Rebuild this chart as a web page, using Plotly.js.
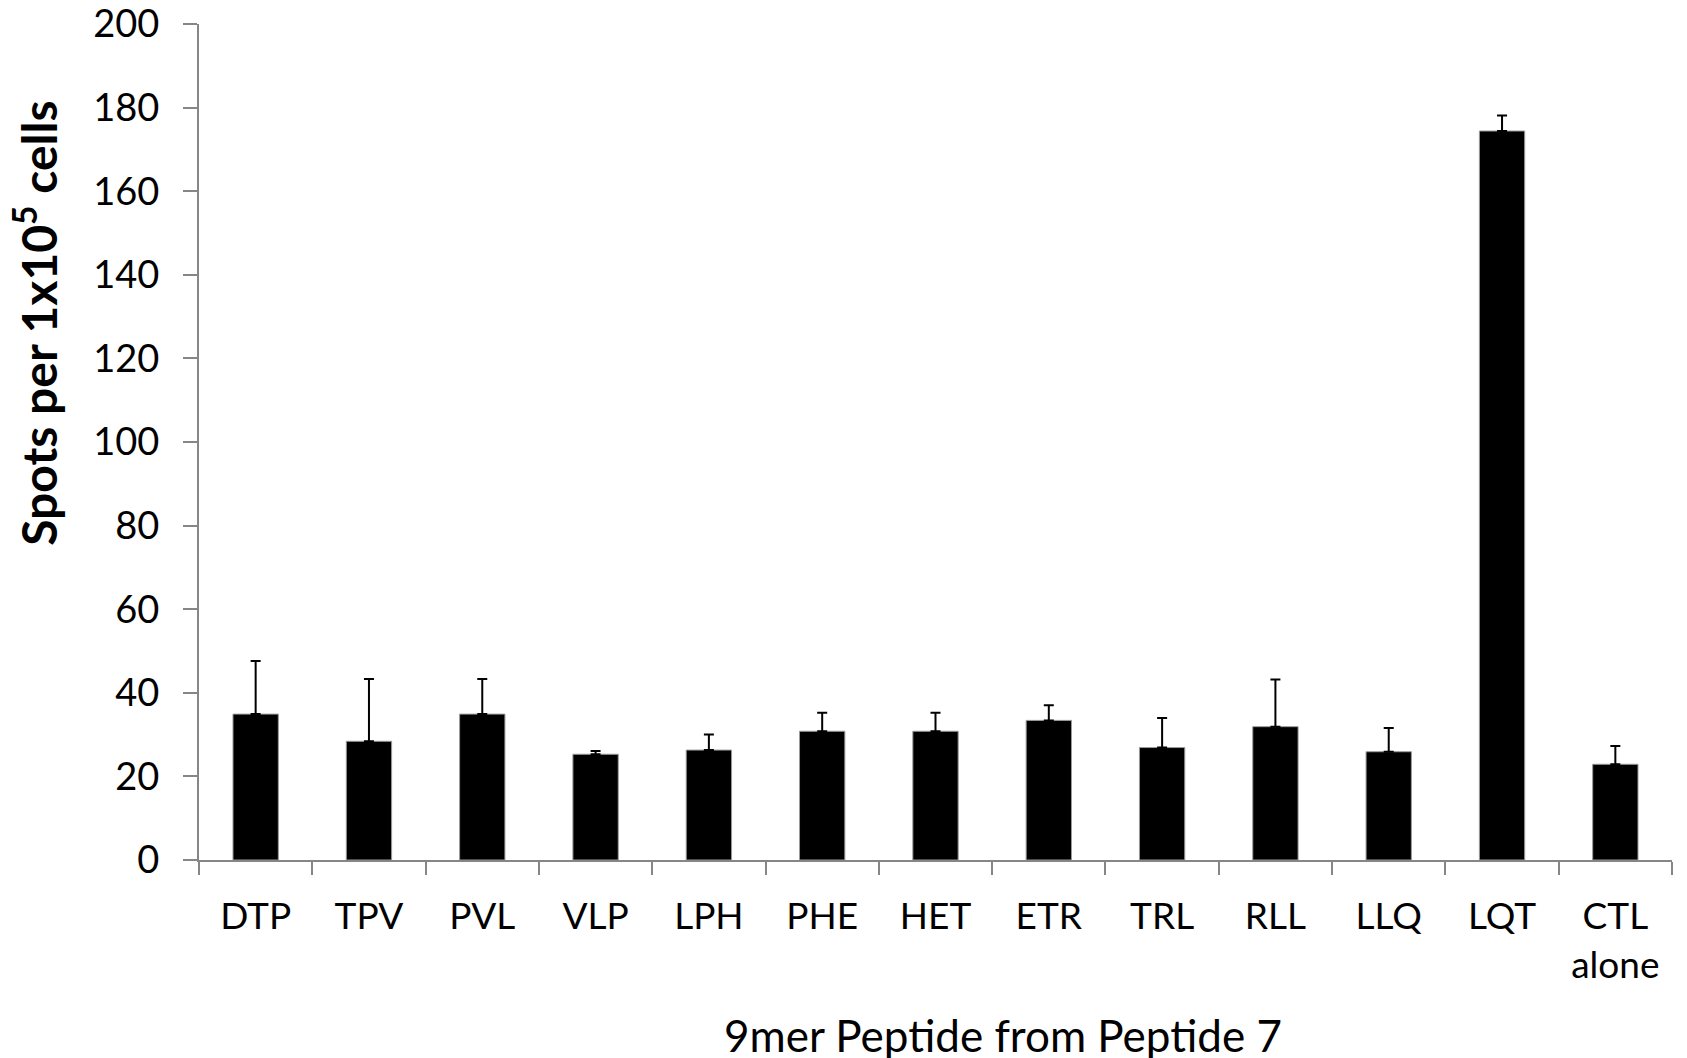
<!DOCTYPE html>
<html>
<head>
<meta charset="utf-8">
<script src="https://cdn.plot.ly/plotly-3.0.1.min.js"></script>
<style>html,body{margin:0;padding:0;background:#fff;}#chart{width:1687px;height:1058px;}</style>
</head>
<body>
<div id="chart"></div>
<script>
const categories = ["DTP","TPV","PVL","VLP","LPH","PHE","HET","ETR","TRL","RLL","LLQ","LQT","CTL<br>alone"];
const spots = [34.9, 28.4, 34.9, 25.3, 26.3, 30.8, 30.8, 33.4, 26.9, 31.9, 25.9, 174.4, 22.9];
const errorPlus = [12.7, 14.9, 8.4, 0.8, 3.7, 4.4, 4.4, 3.6, 7.1, 11.3, 5.7, 3.7, 4.4];
const yTicks = [0, 20, 40, 60, 80, 100, 120, 140, 160, 180, 200];
const xTitle = "9mer Peptide from Peptide 7";
const yTitle = "Spots per 1x10<sup>5</sup> cells";

const FONT = "Lato, 'Open Sans', sans-serif";
const axisGray = "#868686";

const trace = {
  type: "bar",
  x: categories,
  y: spots,
  marker: {color: "#000000", line: {color: "#9a9a9a", width: 1}},
  error_y: {type: "data", array: errorPlus, arrayminus: spots.map(() => 0), symmetric: false,
            color: "#000000", thickness: 2, width: 5},
  hoverinfo: "x+y"
};

const layout = {
  width: 1687, height: 1058,
  margin: {l: 199, r: 15, t: 24, b: 198},
  paper_bgcolor: "#ffffff", plot_bgcolor: "#ffffff",
  bargap: 0.6,
  showlegend: false,
  font: {family: FONT, color: "#000000", size: 37},
  xaxis: {
    type: "category",
    showline: true, linecolor: axisGray, linewidth: 2,
    ticks: "outside", tickson: "boundaries", ticklen: 13, tickwidth: 2, tickcolor: axisGray,
    tickfont: {family: FONT, size: 37, color: "#000000"},
    ticklabelstandoff: 23,
    showgrid: false, zeroline: false
  },
  yaxis: {
    range: [0, 200],
    tickvals: yTicks,
    ticklabeloverflow: "allow",
    showline: true, linecolor: axisGray, linewidth: 2,
    ticks: "outside", ticklen: 14, tickwidth: 2, tickcolor: axisGray,
    tickfont: {family: FONT, size: 38, color: "#000000"},
    ticklabelstandoff: 16,
    showgrid: false, zeroline: false
  },
  annotations: [
    {text: yTitle, xref: "paper", yref: "paper", x: -0.1115, y: 0.6423,
     xanchor: "center", yanchor: "middle", textangle: -90, showarrow: false,
     font: {family: FONT, size: 48, color: "#000000", weight: "bold"}},
    {text: xTitle, xref: "paper", yref: "paper", x: 0.5455, y: -0.2093,
     xanchor: "center", yanchor: "middle", showarrow: false,
     font: {family: FONT, size: 44, color: "#000000"}}
  ]
};

Plotly.newPlot("chart", [trace], layout, {staticPlot: true, displayModeBar: false});
</script>
</body>
</html>
